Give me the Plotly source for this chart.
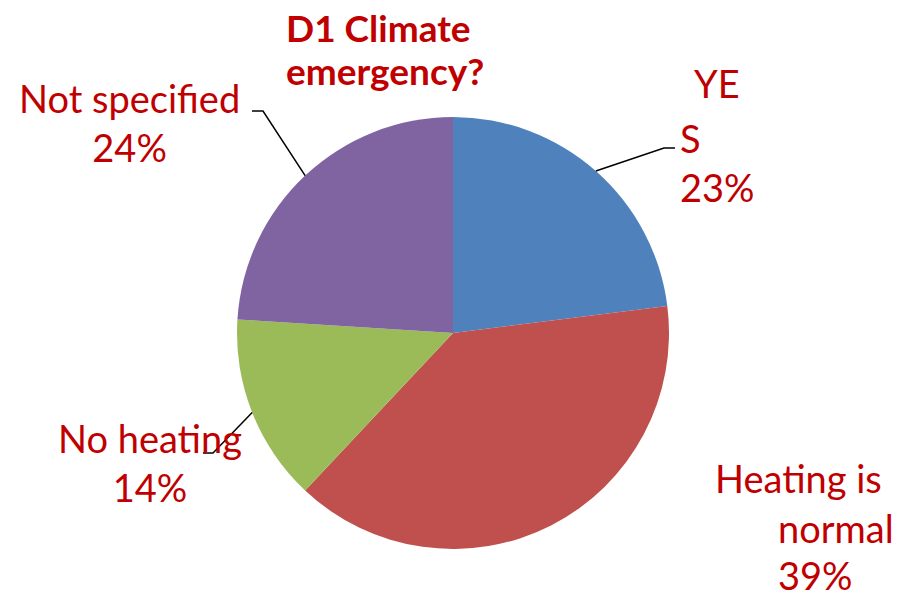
import math
import plotly.graph_objects as go

labels = ["YES", "Heating is normal", "No heating", "Not specified"]
values = [23, 39, 14, 24]
colors = ["#4F81BD", "#C0504D", "#9BBB59", "#8064A2"]
title_lines = ["D1 Climate", "emergency?"]

W, H = 901, 600
CX, CY, R = 453, 333, 216
RED = "#C00000"
FONT = "Lato"

def px(x):
    return x / W

def py(y):
    return 1 - y / H

fig = go.Figure(go.Pie(
    labels=labels, values=values, sort=False, direction="clockwise", rotation=0,
    marker=dict(colors=colors, line=dict(width=0)),
    textinfo="none", hoverinfo="label+percent", showlegend=False,
    domain=dict(x=[px(CX - R), px(CX + R)], y=[py(CY + R), py(CY - R)]),
))

# leader lines: start at slice mid-angle on the rim
total = sum(values)
cum = 0
mids = []
for v in values:
    mids.append((cum + v / 2) / total * 2 * math.pi)
    cum += v

def rim(i):
    a = mids[i]
    return CX + R * math.sin(a), CY - R * math.cos(a)

elbows = {0: [(664, 148), (675, 148)], 3: [(263, 111), (252, 111)], 2: [(213, 453), (203, 453)]}
shapes = []
for i, pts in elbows.items():
    sx, sy = rim(i)
    path = f"M {px(sx)} {py(sy)} L {px(pts[0][0])} {py(pts[0][1])} L {px(pts[1][0])} {py(pts[1][1])}"
    shapes.append(dict(type="path", xref="paper", yref="paper", path=path,
                       line=dict(color="black", width=1.5)))

pct = [f"{round(v / total * 100)}%" for v in values]

def ann(text, x, y, xanchor="left", align="left", size=38, bold=False):
    return dict(text=f"<b>{text}</b>" if bold else text, x=px(x), y=py(y),
                xref="paper", yref="paper", xanchor=xanchor, yanchor="middle",
                align=align, showarrow=False,
                font=dict(family=FONT, size=size, color=RED))

annotations = [
    ann(title_lines[0], 284, 27, size=37, bold=True),
    ann(title_lines[1], 284, 70, size=37, bold=True),
    ann("YE", 717, 83, xanchor="center"),
    ann("S<br>" + pct[0], 678, 162),
    ann("Heating is", 713, 478),
    ann("normal", 776, 528),
    ann(pct[1], 776, 575),
    ann("Not specified<br>" + pct[3], 129, 122, xanchor="center", align="center"),
    ann("No heating<br>" + pct[2], 150, 463, xanchor="center", align="center"),
]

fig.update_layout(
    width=W, height=H, margin=dict(l=0, r=0, t=0, b=0),
    paper_bgcolor="white", plot_bgcolor="white",
    shapes=shapes, annotations=annotations,
)
fig.write_html("out.html", config={"displayModeBar": False},
               post_script="document.body.style.margin='0';document.body.style.overflow='hidden';")
